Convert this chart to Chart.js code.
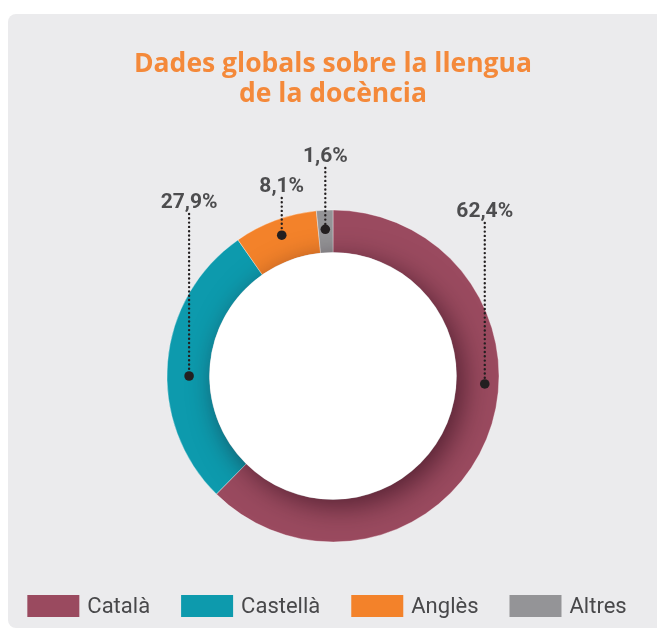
<!DOCTYPE html>
<html>
<head>
<meta charset="utf-8">
<script src="https://cdn.jsdelivr.net/npm/chart.js@4.4.1/dist/chart.umd.min.js"></script>
<style>
  html, body { margin: 0; padding: 0; background: #fff; overflow: hidden; }
  #card { position: absolute; left: 8px; top: 14px; width: 660px; height: 614px; background: #ebebed; border-radius: 8px; }
  #wrap { position: absolute; left: 0; top: 0; width: 657px; height: 631px; }
</style>
</head>
<body>
<div id="card"></div>
<div id="wrap"><canvas id="chart" width="657" height="631"></canvas></div>
<script>
const titleLines = ['Dades globals sobre la llengua', 'de la docència'];
const categories = ['Català', 'Castellà', 'Anglès', 'Altres'];
const values = [62.4, 27.9, 8.1, 1.6];
const segmentColors = ['#9a4a5f', '#0d9aad', '#f3822a', '#949497'];

function formatPct(v) {
    return v.toFixed(1).replace('.', ',') + '%';
}

// white centre with a soft shadow cast onto the ring, then the dotted leaders
const leaderPlugin = {
    id: 'leaders',
    afterDatasetsDraw(chart, args, opts) {
        const ctx = chart.ctx;
        const arcs = chart.getDatasetMeta(0).data;
        const a0 = arcs[0];

        ctx.save();
        ctx.beginPath();
        ctx.arc(a0.x, a0.y, a0.outerRadius, 0, Math.PI * 2);
        ctx.clip();
        ctx.shadowColor = 'rgba(30, 0, 15, 0.55)';
        ctx.shadowBlur = 28;
        ctx.shadowOffsetX = 7;
        ctx.shadowOffsetY = 7;
        ctx.beginPath();
        ctx.arc(a0.x, a0.y, a0.innerRadius, 0, Math.PI * 2);
        ctx.fillStyle = '#ffffff';
        ctx.fill();
        ctx.restore();

        opts.items.forEach((item, i) => {
            const arc = arcs[i];
            const ang = (item.angle - 90) * Math.PI / 180;
            const r = arc.innerRadius + item.depth * (arc.outerRadius - arc.innerRadius);
            const x = arc.x + r * Math.cos(ang);
            const y = arc.y + r * Math.sin(ang);

            ctx.save();
            ctx.strokeStyle = '#231f20';
            ctx.lineWidth = 2.4;
            ctx.lineCap = 'round';
            ctx.setLineDash([0, 4.3]);
            ctx.beginPath();
            ctx.moveTo(x, item.baseline + 6);
            ctx.lineTo(x, y);
            ctx.stroke();
            ctx.restore();

            ctx.save();
            ctx.fillStyle = '#231f20';
            ctx.beginPath();
            ctx.arc(x, y, 4.8, 0, Math.PI * 2);
            ctx.fill();

            ctx.fillStyle = '#4d4d4f';
            ctx.font = 'bold 21px Roboto';
            ctx.textAlign = 'center';
            ctx.textBaseline = 'alphabetic';
            ctx.fillText(formatPct(values[i]), x, item.baseline);
            ctx.restore();
        });
    }
};

// one-row legend with the spacing of the original
const rowLegend = {
    id: 'rowLegend',
    afterDraw(chart, args, opts) {
        const ctx = chart.ctx;
        const meta = chart.getDatasetMeta(0);
        ctx.save();
        ctx.font = opts.font;
        const widths = categories.map(c => ctx.measureText(c).width);
        const total = widths.reduce((s, w) => s + opts.boxWidth + opts.textGap + w, 0) + opts.gap * (categories.length - 1);
        let x = opts.centerX - total / 2;
        categories.forEach((c, i) => {
            ctx.fillStyle = meta.data[i].options.backgroundColor;
            ctx.fillRect(x, opts.top, opts.boxWidth, opts.boxHeight);
            x += opts.boxWidth + opts.textGap;
            ctx.fillStyle = opts.color;
            ctx.textBaseline = 'alphabetic';
            ctx.fillText(c, x, opts.baseline);
            x += widths[i] + opts.gap;
        });
        ctx.restore();
    }
};

new Chart(document.getElementById('chart'), {
    type: 'doughnut',
    data: {
        labels: categories,
        datasets: [{
            data: values,
            backgroundColor: segmentColors,
            borderColor: 'rgba(255, 255, 255, 0.35)',
            borderWidth: 1,
            radius: 166,
            cutout: '74.4%'
        }]
    },
    options: {
        responsive: false,
        animation: false,
        layout: { padding: { left: 9, top: 0, bottom: 46 } },
        plugins: {
            title: {
                display: true,
                text: titleLines,
                color: '#f4893a',
                font: { family: 'Open Sans', size: 26.5, weight: 'bold', lineHeight: 1.113 },
                padding: { top: 50, bottom: 58 }
            },
            legend: { display: false },
            tooltip: { enabled: false },
            leaders: {
                items: [
                    { angle: 93, depth: 0.67, baseline: 217 },
                    { angle: 270, depth: 0.48, baseline: 208 },
                    { angle: 340, depth: 0.62, baseline: 192 },
                    { angle: 357, depth: 0.55, baseline: 162 }
                ]
            },
            rowLegend: {
                font: '22px Roboto',
                color: '#48484a',
                boxWidth: 52,
                boxHeight: 22,
                textGap: 8,
                gap: 31,
                centerX: 327,
                top: 595,
                baseline: 613
            }
        }
    },
    plugins: [leaderPlugin, rowLegend]
});
</script>
</body>
</html>
